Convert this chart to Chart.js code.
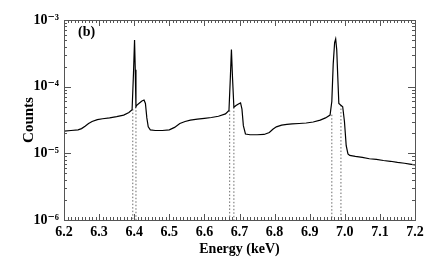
<!DOCTYPE html>
<html>
<head>
<meta charset="utf-8">
<script src="https://cdn.jsdelivr.net/npm/chart.js@4/dist/chart.umd.min.js"></script>
<style>
  html, body { margin: 0; padding: 0; background: #fff; }
  #wrap { width: 436px; height: 262px; }
</style>
</head>
<body>
<div id="wrap"><canvas id="spec"></canvas></div>
<script>
// spectrum
const energy = [
  6.200, 6.220, 6.240, 6.250, 6.260, 6.270, 6.280, 6.295, 6.310, 6.330, 6.350, 6.370, 6.385, 6.394,
  6.398, 6.401, 6.403, 6.405, 6.408, 6.415, 6.422, 6.428, 6.432, 6.436, 6.440, 6.446, 6.460, 6.480,
  6.500, 6.515, 6.530, 6.545, 6.560, 6.580, 6.600, 6.620, 6.640, 6.660, 6.670, 6.674, 6.677, 6.680,
  6.684, 6.690, 6.697, 6.703, 6.707, 6.711, 6.717, 6.730, 6.750, 6.770, 6.785, 6.795, 6.805, 6.820,
  6.835, 6.850, 6.870, 6.890, 6.910, 6.930, 6.945, 6.958, 6.963, 6.967, 6.971, 6.974, 6.977, 6.980,
  6.983, 6.988, 6.994, 6.999, 7.004, 7.009, 7.014, 7.030, 7.050, 7.070, 7.090, 7.110, 7.130, 7.150,
  7.170, 7.185, 7.200
];
const counts = [
  2.15e-5, 2.2e-5, 2.25e-5, 2.35e-5, 2.55e-5, 2.8e-5, 3.0e-5, 3.2e-5, 3.3e-5, 3.4e-5, 3.55e-5, 3.75e-5, 4.1e-5, 4.5e-5,
  1.6e-4, 5.0e-4, 1.8e-4, 5.0e-5, 5.3e-5, 5.7e-5, 6.1e-5, 6.3e-5, 5.6e-5, 3.4e-5, 2.5e-5, 2.25e-5, 2.2e-5, 2.2e-5,
  2.25e-5, 2.45e-5, 2.8e-5, 3.0e-5, 3.15e-5, 3.25e-5, 3.35e-5, 3.45e-5, 3.6e-5, 3.9e-5, 4.4e-5, 1.4e-4, 3.6e-4, 1.4e-4,
  4.9e-5, 5.2e-5, 5.5e-5, 5.7e-5, 4.6e-5, 2.6e-5, 1.95e-5, 1.9e-5, 1.9e-5, 1.92e-5, 2.05e-5, 2.3e-5, 2.5e-5, 2.65e-5,
  2.72e-5, 2.76e-5, 2.8e-5, 2.85e-5, 2.95e-5, 3.15e-5, 3.4e-5, 3.75e-5, 6.0e-5, 2.2e-4, 4.6e-4, 5.2e-4, 3.6e-4, 1.4e-4,
  5.6e-5, 5.3e-5, 5.0e-5, 3.0e-5, 1.3e-5, 9.8e-6, 9.3e-6, 9.0e-6, 8.7e-6, 8.3e-6, 8.1e-6, 7.8e-6, 7.6e-6, 7.3e-6,
  7.1e-6, 6.9e-6, 6.7e-6
];
// dotted line positions and the count level where each starts
const lineEnergy = [6.396, 6.405, 6.672, 6.684, 6.963, 6.989];
const lineTop = [4.6e-5, 5.0e-5, 4.4e-5, 4.9e-5, 3.8e-5, 5.3e-5];

const xTicks = [6.2, 6.3, 6.4, 6.5, 6.6, 6.7, 6.8, 6.9, 7.0, 7.1, 7.2];
const yTicks = [1e-6, 1e-5, 1e-4, 1e-3];
const yTickLabels = ['10⁻⁶', '10⁻⁵', '10⁻⁴', '10⁻³'];

const serif = '"Liberation Serif", "DejaVu Serif", serif';

// inward ticks on all four sides + frame + panel label
const frame = {
  id: 'frame',
  afterDraw(chart) {
    const { ctx, chartArea: a, scales } = chart;
    const xs = scales.x, ys = scales.y;
    ctx.save();
    ctx.strokeStyle = '#555';
    ctx.lineWidth = 1;
    ctx.strokeRect(a.left + 0.5, a.top + 0.5, a.right - a.left, a.bottom - a.top);
    ctx.beginPath();
    for (let i = 0; i <= 100; i++) {
      const v = 6.2 + i * 0.01;
      const px = Math.round(xs.getPixelForValue(v)) + 0.5;
      const len = i % 10 === 0 ? 6 : 3;
      ctx.moveTo(px, a.bottom); ctx.lineTo(px, a.bottom - len);
      ctx.moveTo(px, a.top); ctx.lineTo(px, a.top + len);
    }
    for (let d = -6; d < -3; d++) {
      for (let m = 1; m <= 9; m++) {
        const py = Math.round(ys.getPixelForValue(m * Math.pow(10, d))) + 0.5;
        const len = m === 1 ? 7 : 3;
        ctx.moveTo(a.left, py); ctx.lineTo(a.left + len, py);
        ctx.moveTo(a.right, py); ctx.lineTo(a.right - len, py);
      }
    }
    ctx.stroke();
    ctx.fillStyle = '#000';
    ctx.font = 'bold 14px ' + serif;
    ctx.textBaseline = 'middle';
    ctx.fillText('(b)', a.left + 14, a.top + 12);
    ctx.restore();
  }
};

const datasets = [{
  data: energy.map((e, i) => ({ x: e, y: counts[i] })),
  borderColor: '#000',
  borderWidth: 1.2,
  pointRadius: 0,
  tension: 0
}];
lineEnergy.forEach((e, i) => {
  datasets.push({
    data: [{ x: e, y: lineTop[i] }, { x: e, y: 1e-6 }],
    borderColor: '#444',
    borderWidth: 0.8,
    borderDash: [1.5, 2],
    pointRadius: 0
  });
});

new Chart(document.getElementById('spec'), {
  type: 'line',
  data: { datasets },
  options: {
    responsive: true,
    maintainAspectRatio: false,
    animation: false,
    layout: { padding: { top: 20, right: 21, left: 0, bottom: 0 } },
    plugins: { legend: { display: false }, tooltip: { enabled: false } },
    scales: {
      x: {
        type: 'linear',
        min: 6.2,
        max: 7.2,
        afterBuildTicks: (s) => { s.ticks = xTicks.map(v => ({ value: v })); },
        afterFit: (s) => { s.height = 42; },
        grid: { display: false, drawTicks: false },
        border: { display: false },
        ticks: {
          color: '#000',
          padding: 4,
          maxRotation: 0,
          font: { family: serif, size: 14, weight: 'bold' },
          callback: (v) => v.toFixed(1)
        },
        title: {
          display: true,
          text: 'Energy (keV)',
          color: '#000',
          padding: { top: 0, bottom: 4 },
          font: { family: serif, size: 14, weight: 'bold' }
        }
      },
      y: {
        type: 'logarithmic',
        min: 1e-6,
        max: 1e-3,
        afterBuildTicks: (s) => { s.ticks = yTicks.map(v => ({ value: v })); },
        afterFit: (s) => { s.width = 64; },
        grid: { display: false, drawTicks: false },
        border: { display: false },
        ticks: {
          color: '#000',
          padding: 5,
          font: { family: serif, size: 14, weight: 'bold' },
          callback: (v) => yTickLabels[yTicks.findIndex(t => Math.abs(t - v) / t < 1e-6)] || ''
        },
        title: {
          display: true,
          text: 'Counts',
          color: '#000',
          padding: { top: 20, bottom: 2 },
          font: { family: serif, size: 15, weight: 'bold' }
        }
      }
    }
  },
  plugins: [frame]
});
</script>
</body>
</html>
